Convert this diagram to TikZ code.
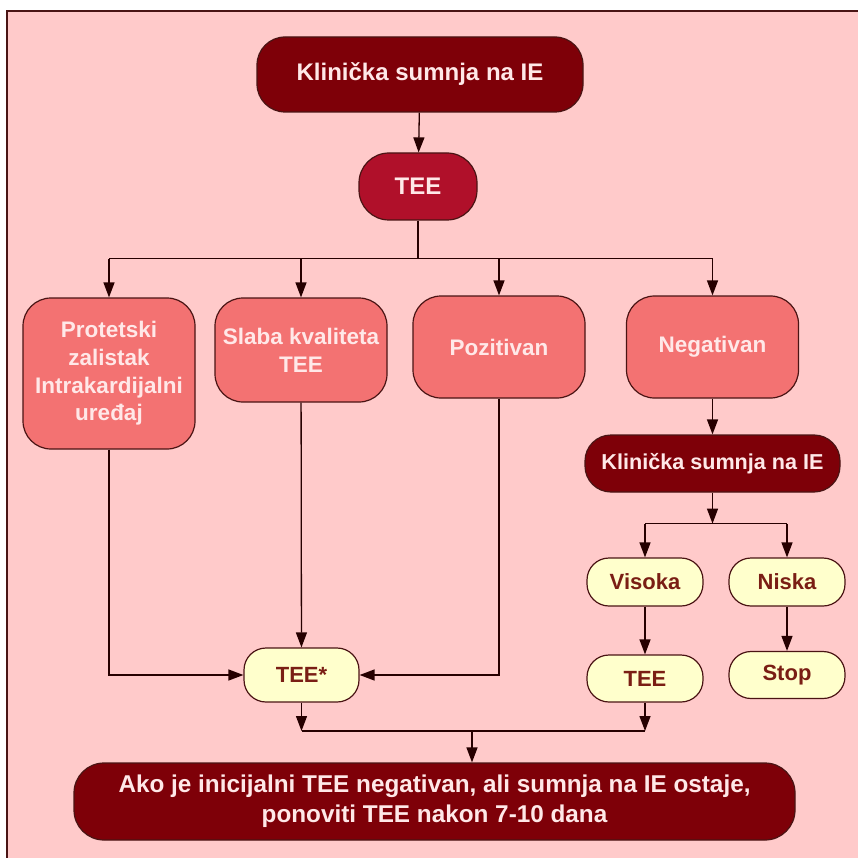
\documentclass[tikz,border=0pt]{standalone}
\usepackage{fontspec}
\setmainfont{Liberation Sans}
\usepackage{tikz}
\usetikzlibrary{positioning,arrows.meta}
\definecolor{bgpink}{HTML}{FFCACA}
\definecolor{darkred}{HTML}{7E0008}
\definecolor{crimson}{HTML}{B0102A}
\definecolor{salmon}{HTML}{F37272}
\definecolor{cream}{HTML}{FFFFCC}
\definecolor{edge}{HTML}{4A1414}
\definecolor{creamtext}{HTML}{7A1E14}
\definecolor{lighttext}{HTML}{FFE8E8}

\begin{document}
\begin{tikzpicture}[x=1pt,y=-1pt,
		box/.style={draw=edge,line width=1.2pt,align=center,inner sep=0pt,font=\bfseries\fontsize{22.5}{27.7}\selectfont},
		dark/.style={box,fill=darkred,text=lighttext,rounded corners=28pt},
		tee/.style={box,fill=crimson,text=lighttext,rounded corners=30pt},
		option/.style={box,fill=salmon,text=lighttext,rounded corners=28pt,minimum width=172pt},
		result/.style={box,fill=cream,text=creamtext,rounded corners=22pt,font=\bfseries\fontsize{22}{26}\selectfont},
		link/.style={draw=black!85!red,line width=1.3pt},
		arr/.style={link,-{Triangle[length=15pt,width=11pt]}}]
				\useasboundingbox (0,0) rectangle (857,858);
				\fill[bgpink] (7,11) rectangle (860,860);
				\draw[edge,line width=1.5pt] (7,860) -- (7,11) -- (860,11);
				% top part
				\node[dark,minimum width=326pt,minimum height=75pt,font=\bfseries\fontsize{24}{29}\selectfont] (start) at (420,74.5) {Klinička sumnja na IE};
				\node[tee,minimum width=118pt,minimum height=67pt,font=\bfseries\fontsize{24}{29}\selectfont] (tee) at (418,186.5) {TEE};
				\node[option,minimum height=151pt] (prot) at (109,373.5) {Protetski\\zalistak\\Intrakardijalni\\uređaj};
				\node[option,minimum height=104pt] (slaba) at (301,350) {Slaba kvaliteta\\TEE};
				\node[option,minimum height=102pt] (poz) at (499,347) {Pozitivan};
				\node[option,minimum height=102pt] (neg) at (712.5,347) {Negativan};
				% negative branch
				\node[dark,rounded corners=26pt,minimum width=255pt,minimum height=57pt,font=\bfseries\fontsize{21.6}{26}\selectfont] (again) at (712.5,463.5) {Klinička sumnja na IE};
				\node[result,minimum width=116pt,minimum height=48pt] (visoka) at (645,582) {Visoka};
				\node[result,minimum width=116pt,minimum height=48pt] (niska) at (787,582) {Niska};
				\node[result,minimum width=116pt,minimum height=47pt] (teer) at (645,678.5) {TEE};
				\node[result,minimum width=116pt,minimum height=47pt] (stop) at (787,675) {Stop};
				\node[result,minimum width=115pt,minimum height=54pt] (teestar) at (301.5,675) {TEE*};
				\node[dark,rounded corners=30pt,minimum width=721pt,minimum height=77pt,font=\bfseries\fontsize{24.3}{30}\selectfont] (end) at (434.5,801.5) {Ako je inicijalni TEE negativan, ali sumnja na IE ostaje,\\ponoviti TEE nakon 7-10 dana};
				% connectors
				\coordinate (split) at ([yshift=-38pt]tee.south);
				\coordinate (split2) at ([yshift=-31pt]again.south);
				\coordinate (join) at (472,731);
				\draw[arr] (start) -- (tee);
				\draw[link] (tee) -- (split);
				\draw[link] (split -| prot) -- (split -| neg);
				\foreach \n in {prot,slaba,poz,neg}
				{\draw[arr] (split -| \n) -- (\n);}
				\draw[arr] (neg) -- (again);
				\draw[arr] (again) -- (split2);
				\draw[link] (split2 -| visoka) -- (split2 -| niska);
				\foreach \n in {visoka,niska}
				{\draw[arr] (split2 -| \n) -- (\n);}
				\draw[arr] (visoka) -- (teer);
				\draw[arr] (niska) -- (stop);
				\draw[arr] (slaba) -- (teestar);
				\draw[arr] (prot.south) |- (teestar.west);
				\draw[arr] (poz.south) |- (teestar.east);
				\draw[arr] (teestar) -- (teestar |- join);
				\draw[arr] (teer) -- (teer |- join);
				\draw[link] (teestar |- join) -- (teer |- join);
				\draw[arr] (join) -- (join |- end.north);
	\end{tikzpicture}
\end{document}
